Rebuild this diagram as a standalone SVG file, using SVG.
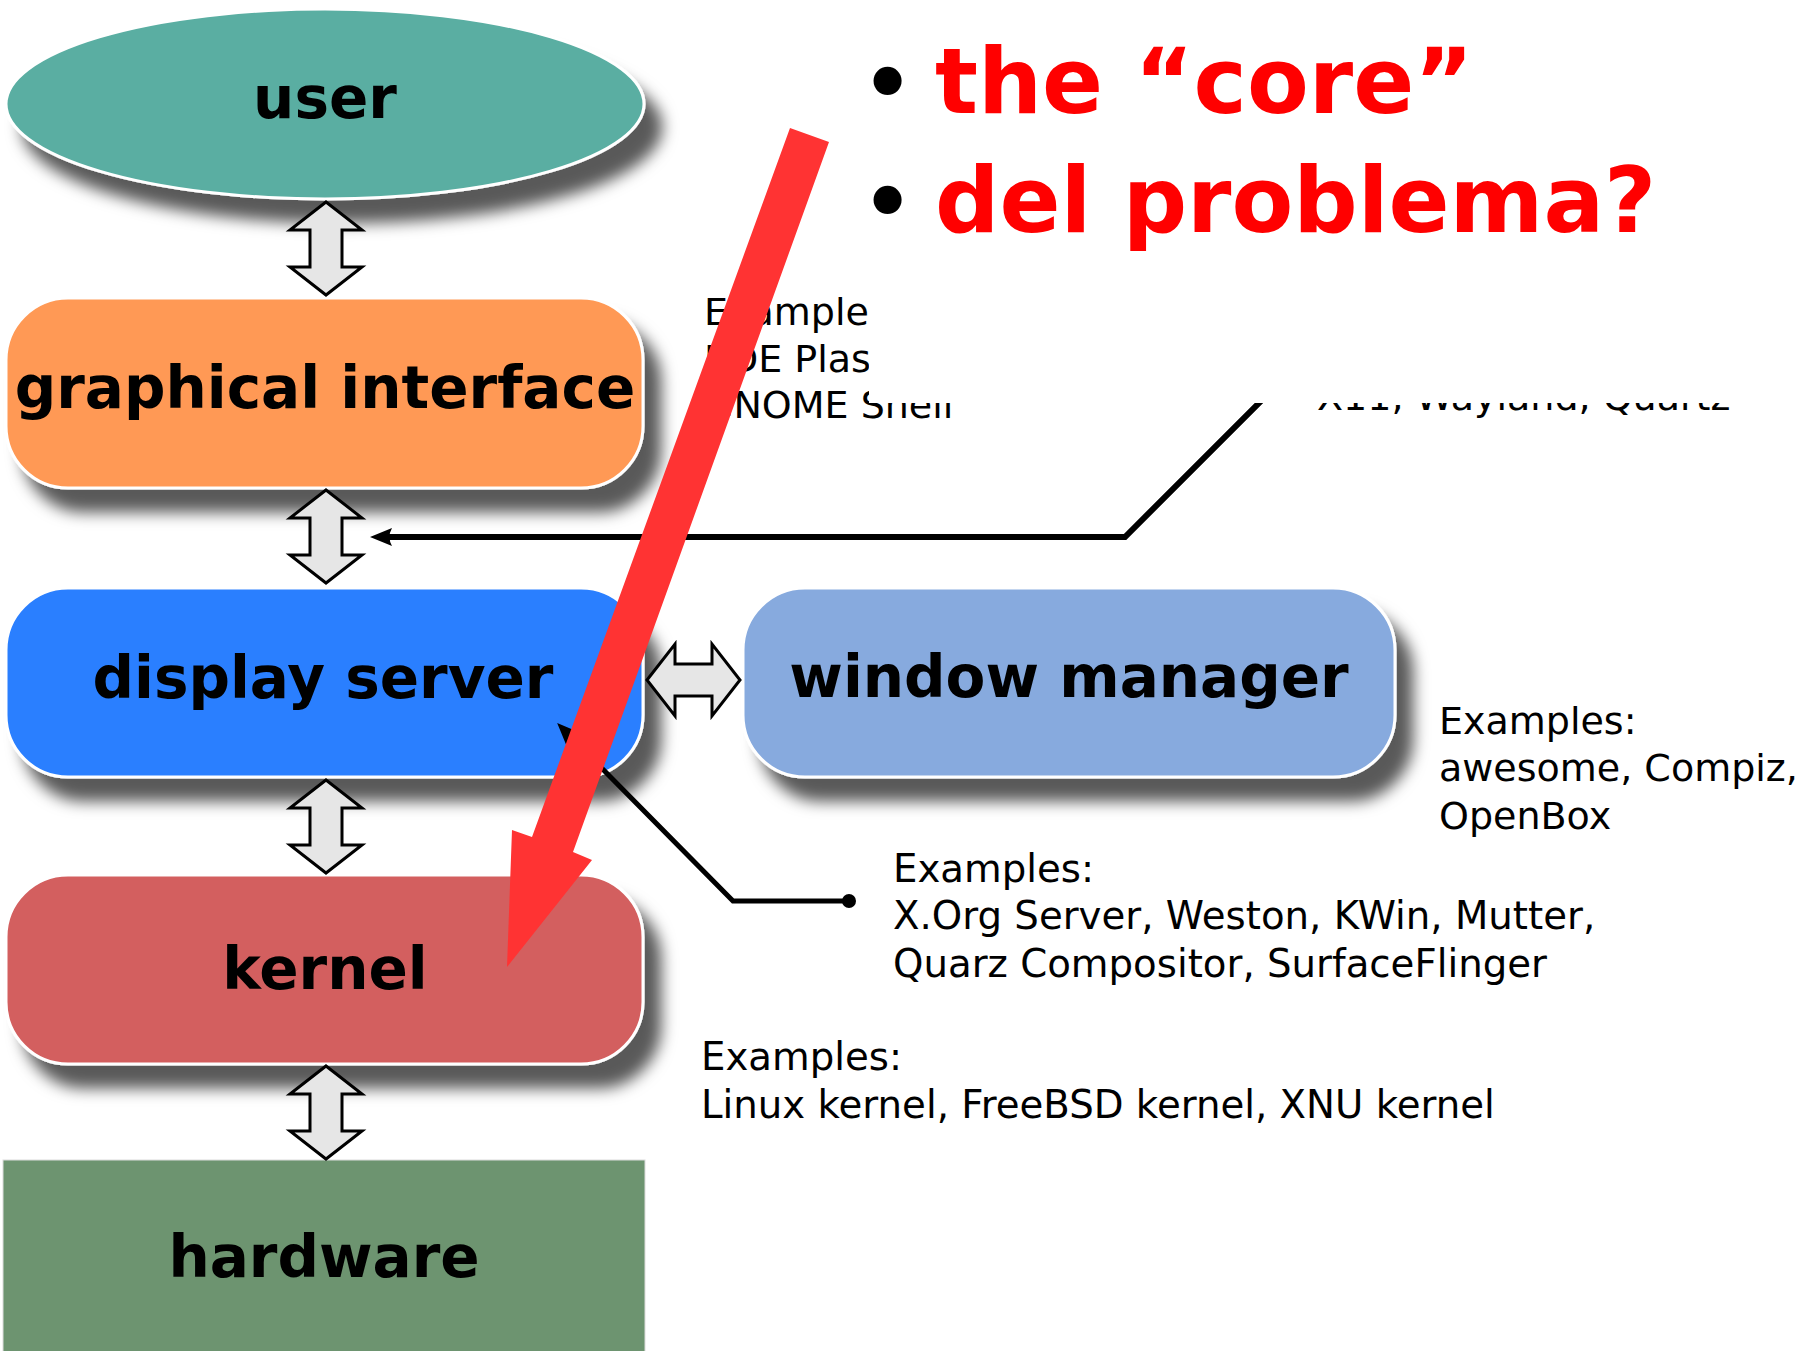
<svg xmlns="http://www.w3.org/2000/svg" width="1812" height="1351" viewBox="0 0 1812 1351">
<defs>
<style>
.lbl{font-family:"DejaVu Sans",sans-serif;font-weight:bold;font-size:58px;fill:#000;text-anchor:middle}
.ex{font-family:"DejaVu Sans",sans-serif;font-size:38px;fill:#000}
.ex2{font-family:"DejaVu Sans",sans-serif;font-size:38.7px;fill:#000}
.title{font-family:"DejaVu Sans",sans-serif;font-weight:bold;font-size:90px;fill:#ff0000}
.bul{font-family:"DejaVu Sans",sans-serif;font-weight:bold;font-size:80px;fill:#000}
.node{stroke:#fff;stroke-width:3}
.dbl{fill:#e6e6e6;stroke:#000;stroke-width:3}
.conn{fill:none;stroke:#000;stroke-width:6;stroke-linejoin:miter}
</style>
<filter id="shadow" x="-10%" y="-15%" width="130%" height="150%">
<feGaussianBlur in="SourceAlpha" stdDeviation="7.5"/>
<feOffset dx="17" dy="23" result="o"/>
<feFlood flood-color="#000" flood-opacity="0.65"/>
<feComposite in2="o" operator="in"/>
<feMerge><feMergeNode/><feMergeNode in="SourceGraphic"/></feMerge>
</filter>
<path id="vdbl" d="M0,0 L36,28 L16,28 L16,65 L36,65 L0,93 L-36,65 L-16,65 L-16,28 L-36,28 Z"/>
<marker id="ah" markerUnits="userSpaceOnUse" markerWidth="30" markerHeight="30" refX="0" refY="0" orient="auto" overflow="visible">
<path d="M14,0 L-8,-9 Q-3,0 -8,9 Z" fill="#000"/>
</marker>
<clipPath id="vis"><path d="M0,0 H869 V403 H1812 V1351 H0 Z"/></clipPath>
</defs>
<rect width="1812" height="1351" fill="#fff"/>

<g id="user">
<ellipse cx="325" cy="104" rx="319" ry="95" fill="#5aaea2" class="node" filter="url(#shadow)"/>
<text class="lbl" x="325" y="118">user</text>
</g>
<g id="graphical-interface">
<rect x="6" y="298" width="637" height="190" rx="62" fill="#ff9955" class="node" filter="url(#shadow)"/>
<text class="lbl" x="325" y="408">graphical interface</text>
</g>
<g id="display-server">
<rect x="6" y="588" width="637" height="189" rx="62" fill="#2a7fff" class="node" filter="url(#shadow)"/>
<text class="lbl" x="323" y="698">display server</text>
</g>
<g id="window-manager">
<rect x="743" y="588" width="652" height="189" rx="62" fill="#87aade" class="node" filter="url(#shadow)"/>
<text class="lbl" x="1069" y="697">window manager</text>
</g>
<g id="kernel">
<rect x="6" y="875" width="637" height="189" rx="62" fill="#d35f5f" class="node" filter="url(#shadow)"/>
<text class="lbl" x="325" y="989">kernel</text>
</g>
<g id="hardware">
<rect x="3" y="1160" width="642" height="195" fill="#6d9470" stroke="#dcdcdc" stroke-width="1"/>
<text class="lbl" x="324" y="1277">hardware</text>
</g>

<g id="connectors">
<use href="#vdbl" class="dbl" transform="translate(326,202)"/>
<use href="#vdbl" class="dbl" transform="translate(326,490)"/>
<use href="#vdbl" class="dbl" transform="translate(326,780)"/>
<use href="#vdbl" class="dbl" transform="translate(326,1066)"/>
<use href="#vdbl" class="dbl" transform="translate(647,680) rotate(-90)"/>
<path class="conn" clip-path="url(#vis)" d="M1262,400 L1125,537 L384,537" marker-end="url(#ah)"/>
<path class="conn" style="stroke-width:5" d="M849,901 L733,901 L567,733" marker-end="url(#ah)"/>
<circle cx="849" cy="901" r="7" fill="#000"/>
</g>

<g id="examples">
<g clip-path="url(#vis)">
<text class="ex" x="704" y="325">Example</text>
<text class="ex" x="704" y="372">KDE Plas</text>
<text class="ex" x="704" y="418">GNOME Shell</text>
<text class="ex" x="1317" y="410">X11, Wayland, Quartz</text>
</g>
<text class="ex" x="1439" y="734">Examples:</text>
<text class="ex" x="1439" y="781">awesome, Compiz,</text>
<text class="ex" x="1439" y="829">OpenBox</text>
<text class="ex2" x="893" y="882">Examples:</text>
<text class="ex2" x="893" y="929">X.Org Server, Weston, KWin, Mutter,</text>
<text class="ex2" x="893" y="977">Quarz Compositor, SurfaceFlinger</text>
<text class="ex2" x="701" y="1070">Examples:</text>
<text class="ex2" x="701" y="1118">Linux kernel, FreeBSD kernel, XNU kernel</text>
</g>

<g id="title">
<text class="bul" x="862" y="111">•</text>
<text class="title" x="935" y="113">the “core”</text>
<text class="bul" x="862" y="230">•</text>
<text class="title" x="935" y="232">del problema?</text>
</g>

<g id="red-arrow">
<polygon points="790,128 829,142 573,852 592,860 507,967 512,830 532,837" fill="#ff3333"/>
</g>
</svg>
